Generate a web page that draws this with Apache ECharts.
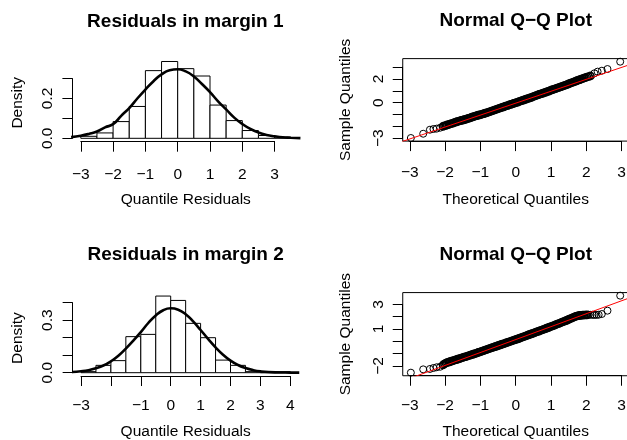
<!DOCTYPE html>
<html><head><meta charset="utf-8">
<script src="https://cdn.jsdelivr.net/npm/echarts@6/dist/echarts.min.js"></script>
<style>html,body{margin:0;padding:0;background:#fff}#c{width:627px;height:440px}</style>
</head><body><div id="c"></div>
<script>
// ---------------- DATA ----------------
const hist1Breaks = [-3,-2.5,-2,-1.5,-1,-0.5,0,0.5,1,1.5,2,2.5,3,3.5];
const hist1Density = [0.010,0.027,0.084,0.160,0.340,0.386,0.350,0.313,0.167,0.089,0.039,0.014,0.006];
const curve1X = [-3.3,-3,-2.75,-2.5,-2.25,-2,-1.75,-1.5,-1.25,-1,-0.75,-0.5,-0.25,0,0.25,0.5,0.75,1,1.25,1.5,1.75,2,2.25,2.5,2.75,3,3.25,3.5,3.8];
const curve1Y = [0.006,0.013,0.022,0.034,0.055,0.071,0.113,0.152,0.200,0.245,0.287,0.321,0.342,0.347,0.336,0.311,0.273,0.232,0.186,0.145,0.104,0.072,0.047,0.029,0.017,0.010,0.005,0.003,0.001];

const hist2Breaks = [-3,-2.5,-2,-1.5,-1,-0.5,0,0.5,1,1.5,2,2.5,3,3.5,4];
const hist2Density = [0.006,0.042,0.069,0.206,0.219,0.438,0.413,0.282,0.200,0.072,0.042,0.006,0.000,0.006];
const curve2X = [-3.3,-3,-2.75,-2.5,-2.25,-2,-1.75,-1.5,-1.25,-1,-0.75,-0.5,-0.25,0,0.25,0.5,0.75,1,1.25,1.5,1.75,2,2.25,2.5,2.75,3,3.5,4,4.3];
const curve2Y = [0.004,0.008,0.014,0.025,0.041,0.065,0.097,0.138,0.183,0.232,0.284,0.327,0.357,0.368,0.360,0.334,0.293,0.244,0.193,0.145,0.103,0.069,0.044,0.027,0.015,0.008,0.002,0.0005,0.0002];

const qq1Theoretical = [-2.97,-2.62,-2.43,-2.33,-2.24,-2.14,-2.06,-2.02,-1.98,-1.94,-1.90,-1.86,-1.82,-1.78,-1.74,-1.70,-1.66,-1.62,-1.58,-1.54,-1.50,-1.46,-1.42,-1.38,-1.34,-1.30,-1.26,-1.22,-1.18,-1.14,-1.10,-1.06,-1.02,-0.98,-0.94,-0.90,-0.86,-0.82,-0.78,-0.74,-0.70,-0.66,-0.62,-0.58,-0.54,-0.50,-0.46,-0.42,-0.38,-0.34,-0.30,-0.26,-0.22,-0.18,-0.14,-0.10,-0.06,-0.02,0.02,0.06,0.10,0.14,0.18,0.22,0.26,0.30,0.34,0.38,0.42,0.46,0.50,0.54,0.58,0.62,0.66,0.70,0.74,0.78,0.82,0.86,0.90,0.94,0.98,1.02,1.06,1.10,1.14,1.18,1.22,1.26,1.30,1.34,1.38,1.42,1.46,1.50,1.54,1.58,1.62,1.66,1.70,1.74,1.78,1.82,1.86,1.90,1.94,1.98,2.02,2.07,2.12,2.23,2.32,2.44,2.60,2.96];
const qq1Sample = [-2.98,-2.62,-2.28,-2.22,-2.19,-2.11,-2.00,-1.95,-1.93,-1.87,-1.84,-1.80,-1.75,-1.73,-1.67,-1.64,-1.60,-1.57,-1.52,-1.49,-1.47,-1.43,-1.41,-1.36,-1.32,-1.29,-1.24,-1.20,-1.17,-1.12,-1.09,-1.05,-1.03,-1.00,-0.95,-0.92,-0.88,-0.85,-0.80,-0.76,-0.72,-0.68,-0.64,-0.60,-0.55,-0.51,-0.47,-0.42,-0.38,-0.35,-0.30,-0.26,-0.23,-0.18,-0.14,-0.11,-0.06,-0.02,0.02,0.05,0.10,0.14,0.19,0.22,0.27,0.30,0.35,0.38,0.43,0.46,0.52,0.56,0.61,0.65,0.70,0.73,0.77,0.81,0.86,0.89,0.94,0.98,1.03,1.08,1.12,1.16,1.20,1.24,1.28,1.33,1.36,1.41,1.45,1.49,1.54,1.59,1.64,1.68,1.73,1.77,1.82,1.86,1.91,1.95,2.00,2.04,2.08,2.13,2.17,2.21,2.26,2.48,2.62,2.70,2.84,3.46];
const qq1Line = [[-3.3,-3.36],[3.3,3.28]];

const qq2Theoretical = [-2.97,-2.62,-2.43,-2.33,-2.24,-2.14,-2.06,-2.02,-1.98,-1.94,-1.90,-1.86,-1.82,-1.78,-1.74,-1.70,-1.66,-1.62,-1.58,-1.54,-1.50,-1.46,-1.42,-1.38,-1.34,-1.30,-1.26,-1.22,-1.18,-1.14,-1.10,-1.06,-1.02,-0.98,-0.94,-0.90,-0.86,-0.82,-0.78,-0.74,-0.70,-0.66,-0.62,-0.58,-0.54,-0.50,-0.46,-0.42,-0.38,-0.34,-0.30,-0.26,-0.22,-0.18,-0.14,-0.10,-0.06,-0.02,0.02,0.06,0.10,0.14,0.18,0.22,0.26,0.30,0.34,0.38,0.42,0.46,0.50,0.54,0.58,0.62,0.66,0.70,0.74,0.78,0.82,0.86,0.90,0.94,0.98,1.02,1.06,1.10,1.14,1.18,1.22,1.26,1.30,1.34,1.38,1.42,1.46,1.50,1.54,1.58,1.62,1.66,1.70,1.74,1.78,1.82,1.86,1.90,1.94,1.98,2.02,2.07,2.12,2.18,2.23,2.29,2.35,2.44,2.60,2.96];
const qq2Sample = [-2.55,-2.28,-2.25,-2.17,-2.11,-2.07,-1.92,-1.84,-1.77,-1.72,-1.69,-1.65,-1.61,-1.58,-1.54,-1.50,-1.47,-1.43,-1.40,-1.36,-1.32,-1.28,-1.25,-1.21,-1.18,-1.13,-1.10,-1.06,-1.02,-0.99,-0.95,-0.90,-0.87,-0.83,-0.79,-0.75,-0.71,-0.67,-0.63,-0.59,-0.55,-0.51,-0.47,-0.43,-0.39,-0.35,-0.31,-0.27,-0.23,-0.20,-0.16,-0.11,-0.08,-0.04,0.00,0.04,0.08,0.12,0.16,0.20,0.24,0.29,0.33,0.37,0.41,0.45,0.50,0.54,0.58,0.62,0.66,0.71,0.75,0.79,0.83,0.88,0.92,0.96,1.00,1.05,1.09,1.13,1.18,1.22,1.27,1.31,1.36,1.41,1.45,1.49,1.55,1.59,1.63,1.68,1.72,1.78,1.83,1.88,1.93,1.98,2.03,2.06,2.09,2.11,2.12,2.13,2.14,2.14,2.15,2.16,2.15,2.16,2.14,2.15,2.16,2.22,2.49,3.71];
const qq2Line = [[-3.3,-3.33],[3.3,3.61]];

const hist1XLabels = ["−3","−2","−1","0","1","2","3"];
const hist1YLabels = ["0.0","","0.2",""];
const hist2XLabels = ["−3","","−1","0","1","2","3","4"];
const hist2YLabels = ["0.0","","","0.3",""];
const qqXLabels = ["−3","−2","−1","0","1","2","3"];
const qq1YLabels = ["−3","","","0","","2",""];
const qq2YLabels = ["−2","","","1","","3"];

// ---------------- LAYOUT ----------------
const FF = '"Liberation Sans", Arial, Helvetica, sans-serif';
const FS = 15.5;
const grids = [], xAxes = [], yAxes = [], series = [], graphics = [];
function addGrid(g) { grids.push(Object.assign({outerBoundsMode: 'none', containLabel: false}, g)); return grids.length - 1; }
function txt() { return {color: '#000', fontSize: FS, fontFamily: FF}; }

function panel(L) {
  const left = L.x0 + L.xmin * L.xs, width = (L.xmax - L.xmin) * L.xs;
  const top = L.y0 - L.ymax * L.ys, height = (L.ymax - L.ymin) * L.ys;
  const gi = addGrid({left, top, width, height, show: !!L.box, borderColor: '#000', borderWidth: 1, backgroundColor: 'transparent'});
  xAxes.push({gridIndex: gi, type: 'value', min: L.xmin, max: L.xmax, name: L.xName, nameLocation: 'middle', nameGap: L.xNameGap,
    nameTextStyle: txt(), axisLine: {show: false}, axisTick: {show: false}, axisLabel: {show: false}, splitLine: {show: false}});
  yAxes.push({gridIndex: gi, type: 'value', min: L.ymin, max: L.ymax, name: L.yName, nameLocation: 'middle', nameGap: L.yNameGap,
    nameTextStyle: txt(), axisLine: {show: false}, axisTick: {show: false}, axisLabel: {show: false}, splitLine: {show: false}});
  const di = xAxes.length - 1;
  const bottomPx = top + height;
  const xa = L.xT[0], xb = L.xT[1];
  const gx = addGrid({left: L.x0 + xa * L.xs, width: (xb - xa) * L.xs, top: bottomPx - 10, height: 10});
  xAxes.push({gridIndex: gx, type: 'value', min: xa, max: xb, interval: L.xT[2], position: 'bottom',
    axisLine: {onZero: false, lineStyle: {color: '#000', width: 1}},
    axisTick: {length: 10, lineStyle: {color: '#000', width: 1}},
    axisLabel: Object.assign(txt(), {margin: L.xMargin, formatter: v => L.xLabels[Math.round((v - xa) / L.xT[2])] || ''}),
    splitLine: {show: false}});
  yAxes.push({gridIndex: gx, type: 'value', show: false, min: 0, max: 1});
  const ya = L.yT[0], yb = L.yT[1];
  const gy = addGrid({left: left, width: 10, top: L.y0 - yb * L.ys, height: (yb - ya) * L.ys});
  xAxes.push({gridIndex: gy, type: 'value', show: false, min: 0, max: 1});
  yAxes.push({gridIndex: gy, type: 'value', min: ya, max: yb, interval: L.yT[2], position: 'left',
    axisLine: {onZero: false, lineStyle: {color: '#000', width: 1}},
    axisTick: {length: 10, lineStyle: {color: '#000', width: 1}},
    axisLabel: Object.assign(txt(), {rotate: 90, margin: L.yMargin, formatter: v => L.yLabels[Math.round((v - ya) / L.yT[2])] || ''}),
    splitLine: {show: false}});
  graphics.push({type: 'text', x: L.titleX, y: L.titleY, style: {text: L.title, fill: '#000', font: 'bold 19px ' + FF, align: 'center', verticalAlign: 'middle'}});
  return di;
}

function histSeries(di, breaks, dens) {
  series.push({type: 'custom', xAxisIndex: di, yAxisIndex: di, clip: false, silent: true,
    data: dens.map((d, i) => [breaks[i], breaks[i + 1], d]),
    encode: {x: [0, 1], y: 2},
    renderItem: (params, api) => {
      const p0 = api.coord([api.value(0), 0]);
      const p1 = api.coord([api.value(1), api.value(2)]);
      return {type: 'rect', shape: {x: p0[0], y: p1[1], width: p1[0] - p0[0], height: p0[1] - p1[1]},
        style: {fill: '#fff', stroke: '#000', lineWidth: 1}};
    }});
}
function curveSeries(di, xs, ys) {
  series.push({type: 'line', xAxisIndex: di, yAxisIndex: di, smooth: true, symbol: 'none', silent: true, z: 5,
    data: xs.map((x, i) => [x, ys[i]]), lineStyle: {color: '#000', width: 2.6}});
}
// tailL / tailR: how many sparse end points are drawn with a thin ring (the dense band gets a heavier ring)
function qqSeries(di, xs, ys, line, tailL, tailR) {
  series.push({type: 'scatter', xAxisIndex: di, yAxisIndex: di, symbol: 'circle', symbolSize: 7, silent: true,
    data: xs.map((x, i) => {
      const sparse = i < tailL || i >= xs.length - tailR;
      return {value: [x, ys[i]], itemStyle: {borderWidth: sparse ? 1 : 1.6}};
    }),
    itemStyle: {color: 'rgba(0,0,0,0)', borderColor: '#000', borderWidth: 1, opacity: 1}});
  series.push({type: 'line', xAxisIndex: di, yAxisIndex: di, symbol: 'none', silent: true, z: 6, clip: true,
    data: line, lineStyle: {color: '#ff0000', width: 1}});
}

const p1 = panel({x0: 177.7, xs: 32.3, xmin: -3.26, xmax: 3.76, y0: 138.3, ys: 199, ymin: -0.017, ymax: 0.374,
  xT: [-3, 3, 1], yT: [0, 0.3, 0.1], xLabels: hist1XLabels, yLabels: hist1YLabels,
  xName: 'Quantile Residuals', yName: 'Density', xMargin: 25, xNameGap: 50.5, yMargin: 16.5, yNameGap: 46.5,
  title: 'Residuals in margin 1', titleX: 185.3, titleY: 21.5});
histSeries(p1, hist1Breaks, hist1Density);
curveSeries(p1, curve1X, curve1Y);

const p2 = panel({x0: 515.7, xs: 35.3, xmin: -3.2, xmax: 3.2, y0: 102.7, ys: 11.85, ymin: -3.24, ymax: 3.72, box: true,
  xT: [-3, 3, 1], yT: [-3, 3, 1], xLabels: qqXLabels, yLabels: qq1YLabels,
  xName: 'Theoretical Quantiles', yName: 'Sample Quantiles', xMargin: 23.5, xNameGap: 50.5, yMargin: 16.5, yNameGap: 49.5,
  title: 'Normal Q\u2212Q Plot', titleX: 515.7, titleY: 21});
qqSeries(p2, qq1Theoretical, qq1Sample, qq1Line, 6, 5);

const p3 = panel({x0: 170.7, xs: 29.9, xmin: -3.28, xmax: 4.28, y0: 372.7, ys: 175, ymin: -0.019, ymax: 0.415,
  xT: [-3, 4, 1], yT: [0, 0.4, 0.1], xLabels: hist2XLabels, yLabels: hist2YLabels,
  xName: 'Quantile Residuals', yName: 'Density', xMargin: 22, xNameGap: 48, yMargin: 16.5, yNameGap: 46.5,
  title: 'Residuals in margin 2', titleX: 185.6, titleY: 255});
histSeries(p3, hist2Breaks, hist2Density);
curveSeries(p3, curve2X, curve2Y);

const p4 = panel({x0: 515.7, xs: 35.3, xmin: -3.2, xmax: 3.2, y0: 341.3, ys: 12.3, ymin: -2.8, ymax: 3.96, box: true,
  xT: [-3, 3, 1], yT: [-2, 3, 1], xLabels: qqXLabels, yLabels: qq2YLabels,
  xName: 'Theoretical Quantiles', yName: 'Sample Quantiles', xMargin: 22, xNameGap: 48, yMargin: 16.5, yNameGap: 49.5,
  title: 'Normal Q\u2212Q Plot', titleX: 515.7, titleY: 254.5});
qqSeries(p4, qq2Theoretical, qq2Sample, qq2Line, 6, 9);

const chart = echarts.init(document.getElementById('c'), null, {renderer: 'canvas'});
chart.setOption({
  backgroundColor: '#fff', animation: false,
  grid: grids, xAxis: xAxes, yAxis: yAxes, series: series, graphic: graphics
});
</script></body></html>
